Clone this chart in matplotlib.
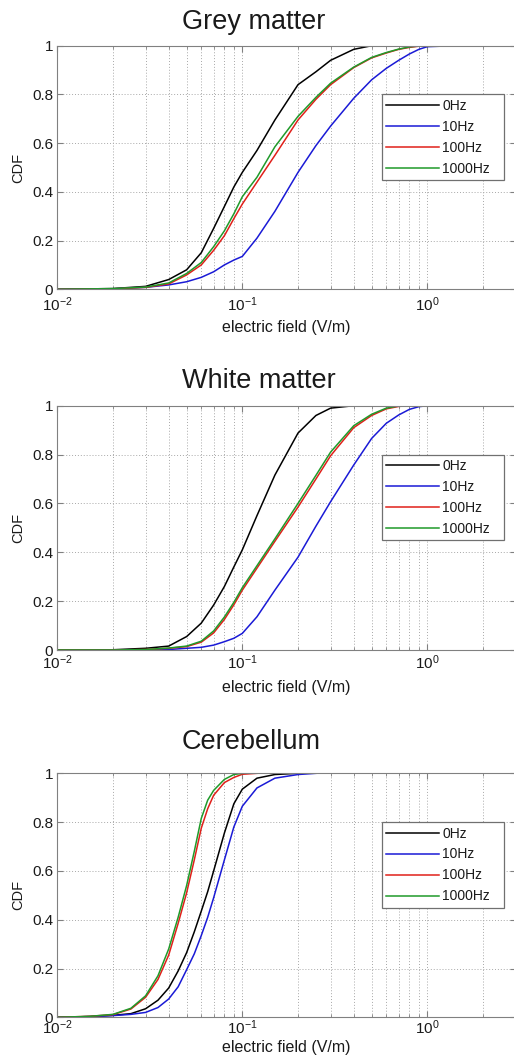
"""
plot.py
-------
Cumulative distribution of the electric field in three brain tissues
(grey matter, white matter, cerebellum) for four stimulation frequencies.
"""
import numpy as np
import matplotlib
matplotlib.use("Agg")
import matplotlib.pyplot as plt
from matplotlib.ticker import LogLocator, LogFormatterSciNotation, FixedLocator, NullFormatter

nan = np.nan

freq_labels = ["0Hz", "10Hz", "100Hz", "1000Hz"]
panel_titles = ["Grey matter", "White matter", "Cerebellum"]
y_ticks = [0, 0.2, 0.4, 0.6, 0.8, 1.0]
y_tick_labels = ["0", "0.2", "0.4", "0.6", "0.8", "1"]

# grey matter, E-field (V/m) and CDF per frequency
gm_x = [0.01, 0.02, 0.03, 0.04, 0.05, 0.06, 0.07, 0.08, 0.09, 0.1, 0.12, 0.15,
        0.2, 0.25, 0.3, 0.4, 0.5, 0.6, 0.7, 0.8, 0.9, 1.0, 1.4]
gm_0hz = [0, 0.003, 0.012, 0.04, 0.08, 0.15, 0.25, 0.34, 0.42, 0.48, 0.57, 0.695,
          0.84, 0.893, 0.94, 0.985, 1.0, nan, nan, nan, nan, nan, nan]
gm_10hz = [0, 0.002, 0.008, 0.018, 0.031, 0.049, 0.072, 0.10, 0.12, 0.135, 0.21, 0.32,
           0.48, 0.59, 0.67, 0.784, 0.86, 0.907, 0.94, 0.966, 0.985, 0.996, 1.0]
gm_100hz = [0, 0.002, 0.008, 0.022, 0.059, 0.10, 0.16, 0.22, 0.29, 0.35, 0.44, 0.55,
            0.695, 0.78, 0.84, 0.91, 0.95, 0.97, 0.985, 0.993, 0.998, 1.0, nan]
gm_1000hz = [0, 0.003, 0.009, 0.026, 0.065, 0.11, 0.175, 0.24, 0.31, 0.38, 0.46, 0.585,
             0.71, 0.788, 0.846, 0.912, 0.952, 0.972, 0.986, 0.995, 0.999, 1.0, nan]

# white matter
wm_x = [0.01, 0.02, 0.03, 0.04, 0.05, 0.06, 0.07, 0.08, 0.09, 0.1, 0.12, 0.15,
        0.2, 0.25, 0.3, 0.4, 0.5, 0.6, 0.7, 0.8, 0.9, 1.0, 1.05]
wm_0hz = [0, 0.001, 0.007, 0.016, 0.055, 0.11, 0.184, 0.26, 0.34, 0.41, 0.55, 0.716,
          0.888, 0.96, 0.99, 1.0, nan, nan, nan, nan, nan, nan, nan]
wm_10hz = [0, 0, 0.001, 0.002, 0.007, 0.011, 0.02, 0.034, 0.048, 0.068, 0.136, 0.245,
           0.38, 0.507, 0.607, 0.757, 0.866, 0.928, 0.962, 0.985, 0.996, 1.0, 1.0]
wm_100hz = [0, 0, 0.002, 0.007, 0.014, 0.032, 0.07, 0.125, 0.185, 0.245, 0.335, 0.445,
            0.585, 0.70, 0.795, 0.91, 0.96, 0.987, 0.997, 1.0, nan, nan, nan]
wm_1000hz = [0, 0, 0.002, 0.008, 0.016, 0.036, 0.078, 0.135, 0.195, 0.255, 0.345, 0.455,
             0.6, 0.715, 0.81, 0.918, 0.965, 0.99, 0.999, 1.0, nan, nan, nan]

# cerebellum
cb_x = [0.01, 0.015, 0.02, 0.025, 0.03, 0.035, 0.04, 0.045, 0.05, 0.055, 0.06,
        0.065, 0.07, 0.08, 0.09, 0.1, 0.12, 0.15, 0.2, 0.25]
cb_0hz = [0, 0.003, 0.008, 0.015, 0.035, 0.07, 0.12, 0.19, 0.265, 0.35, 0.435,
          0.515, 0.6, 0.755, 0.875, 0.935, 0.98, 0.995, 1.0, nan]
cb_10hz = [0, 0.003, 0.007, 0.012, 0.02, 0.04, 0.075, 0.125, 0.195, 0.26, 0.335,
           0.41, 0.49, 0.645, 0.78, 0.865, 0.94, 0.98, 0.995, 1.0]
cb_100hz = [0, 0.004, 0.011, 0.034, 0.082, 0.155, 0.255, 0.385, 0.51, 0.645, 0.775,
            0.855, 0.91, 0.962, 0.983, 0.996, 1.0, nan, nan, nan]
cb_1000hz = [0, 0.004, 0.012, 0.037, 0.088, 0.17, 0.28, 0.41, 0.54, 0.68, 0.815,
             0.89, 0.93, 0.975, 0.995, 1.0, nan, nan, nan, nan]

panels = [
    (gm_x, [gm_0hz, gm_10hz, gm_100hz, gm_1000hz]),
    (wm_x, [wm_0hz, wm_10hz, wm_100hz, wm_1000hz]),
    (cb_x, [cb_0hz, cb_10hz, cb_100hz, cb_1000hz]),
]

# layout (figure pixels, 514 x 1062)
W, H = 514.0, 1062.0
ax_left, ax_width = 57.3, 458.3
ax_rects = [(289.3, 243.6), (650.0, 244.3), (1017.3, 244.0)]   # (bottom px, height px)
title_gap = [16.4, 17.4, 24.0]
xlabel_gap = [31.0, 30.0, 23.0]
xtick_pad = [4.3, 2.4, 0.9]
colors = ["#000000", "#1a1ad6", "#e0201a", "#1f9a2a"]

plt.rcParams["font.family"] = ["Liberation Sans", "DejaVu Sans"]
plt.rcParams["mathtext.default"] = "regular"
text_col = "#1a1a1a"

fig = plt.figure(figsize=(W / 100, H / 100), dpi=100)

for i, (xs, series) in enumerate(panels):
    bot_px, h_px = ax_rects[i]
    ax = fig.add_axes([ax_left / W, (H - bot_px) / H, ax_width / W, h_px / H])
    for ys, lab, c in zip(series, freq_labels, colors):
        ax.plot(xs, ys, color=c, lw=1.1, label=lab)

    ax.set_xscale("log")
    ax.set_xlim(0.01, 3)
    ax.set_ylim(0, 1)
    ax.xaxis.set_major_locator(LogLocator(base=10))
    ax.xaxis.set_major_formatter(LogFormatterSciNotation())
    ax.xaxis.set_minor_locator(LogLocator(base=10, subs=np.arange(2, 10)))
    ax.xaxis.set_minor_formatter(NullFormatter())
    ax.yaxis.set_major_locator(FixedLocator(y_ticks))
    ax.set_yticklabels(y_tick_labels)

    ax.grid(True, which="both", axis="x", color="#a8a8a8", lw=0.7, ls=(0, (1, 2)))
    ax.grid(True, which="major", axis="y", color="#a8a8a8", lw=0.7, ls=(0, (1, 2)))
    ax.tick_params(which="both", direction="in", top=True, right=True,
                   colors="#808080", labelcolor=text_col, labelsize=11)
    ax.tick_params(which="major", length=4)
    ax.tick_params(which="minor", length=2)
    ax.tick_params(axis="x", pad=xtick_pad[i])
    ax.tick_params(axis="y", pad=3)
    for sp in ax.spines.values():
        sp.set_color("#808080")
        sp.set_linewidth(0.8)

    ax.text(0.2714, 1 + title_gap[i] / h_px, panel_titles[i], transform=ax.transAxes,
            ha="left", va="baseline", fontsize=19.5, color=text_col)
    ax.set_xlabel("electric field (V/m)", fontsize=11.5, color=text_col, va="top")
    ax.xaxis.set_label_coords(0.5, -xlabel_gap[i] / h_px)
    ax.set_ylabel("CDF", fontsize=10.5, color=text_col, ha="center", va="center")
    ax.yaxis.set_label_coords(-39.0 / ax_width, 0.5)

    leg = ax.legend(loc="upper left", bbox_to_anchor=(0.708, 0.449, 0.267, 0.351),
                    mode="expand", fontsize=10, handlelength=3.8, handletextpad=0.25,
                    labelspacing=0.5, borderpad=0.32, borderaxespad=0.0,
                    fancybox=False, framealpha=1.0, edgecolor="#707070")
    leg.get_frame().set_linewidth(0.9)
    for t in leg.get_texts():
        t.set_color(text_col)

fig.savefig("out.png", dpi=100)
